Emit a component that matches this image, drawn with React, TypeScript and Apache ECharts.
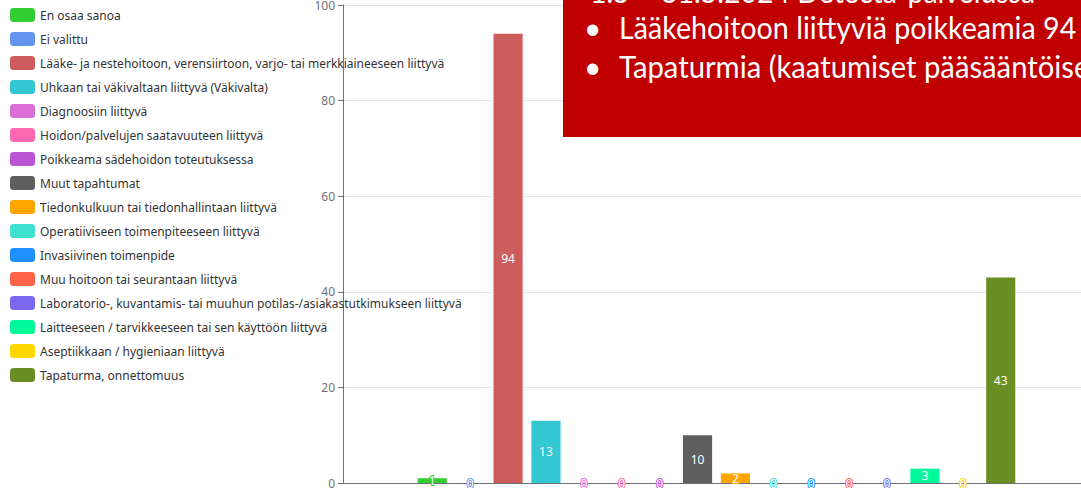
import React, { useEffect, useRef } from "react";
import * as echarts from "echarts";

const seriesNames = [
  "En osaa sanoa",
  "Ei valittu",
  "Lääke- ja nestehoitoon, verensiirtoon, varjo- tai merkkiaineeseen liittyvä",
  "Uhkaan tai väkivaltaan liittyvä (Väkivalta)",
  "Diagnoosiin liittyvä",
  "Hoidon/palvelujen saatavuuteen liittyvä",
  "Poikkeama sädehoidon toteutuksessa",
  "Muut tapahtumat",
  "Tiedonkulkuun tai tiedonhallintaan liittyvä",
  "Operatiiviseen toimenpiteeseen liittyvä",
  "Invasiivinen toimenpide",
  "Muu hoitoon tai seurantaan liittyvä",
  "Laboratorio-, kuvantamis- tai muuhun potilas-/asiakastutkimukseen liittyvä",
  "Laitteeseen / tarvikkeeseen tai sen käyttöön liittyvä",
  "Aseptiikkaan / hygieniaan liittyvä",
  "Tapaturma, onnettomuus",
];

const seriesValues = [1, 0, 94, 13, 0, 0, 0, 10, 2, 0, 0, 0, 0, 3, 0, 43];

const seriesColors = [
  "#32CD32",
  "#6495ED",
  "#CD5C5C",
  "#33C6D3",
  "#DA70D6",
  "#FF69B4",
  "#BA55D3",
  "#5E5E5E",
  "#FFA500",
  "#40E0D0",
  "#1E90FF",
  "#FF6347",
  "#7B68EE",
  "#00FA9A",
  "#FFD700",
  "#6B8E23",
];

const categories = ["Poikkeamat"];

const boxLines = [
  "1.5 – 31.5.2024 Detecta-palvelussa",
  "Lääkehoitoon liittyviä poikkeamia 94",
  "Tapaturmia (kaatumiset pääsääntöisesti) 43",
];

export default function App() {
  const ref = useRef<HTMLDivElement>(null);

  useEffect(() => {
    if (!ref.current) return;
    const chart = echarts.init(ref.current, undefined, { renderer: "svg" });
    const boxFont = "30px Lato";
    chart.setOption({
      animation: false,
      textStyle: { fontFamily: "Noto Sans" },
      legend: {
        orient: "vertical",
        left: 5,
        top: 3,
        itemWidth: 25,
        itemHeight: 14,
        itemGap: 10,
        textStyle: { fontSize: 12, color: "#333", fontFamily: "Noto Sans" },
        data: seriesNames,
      },
      grid: {
        left: 343,
        right: 10,
        top: 5,
        bottom: 5,
        containLabel: false,
        outerBoundsMode: "none",
      },
      xAxis: {
        type: "category",
        data: categories,
        axisLine: { lineStyle: { color: "#6E7079" } },
        axisTick: { show: false },
      },
      yAxis: {
        type: "value",
        min: 0,
        max: 100,
        interval: 20,
        axisLine: { show: true, lineStyle: { color: "#6E7079" } },
        axisTick: { show: true },
        axisLabel: { color: "#6E7079", fontSize: 12 },
        splitLine: { lineStyle: { color: "#E0E6F1" } },
      },
      series: seriesNames.map((name, i) => ({
        name,
        type: "bar",
        data: [seriesValues[i]],
        barGap: "30%",
        barCategoryGap: "20%",
        itemStyle: { color: seriesColors[i] },
        label: {
          show: true,
          position: "inside",
          fontSize: 12,
          color: "#fff",
          textBorderColor: seriesColors[i],
          textBorderWidth: 2,
        },
      })),
      graphic: [
        {
          type: "rect",
          z: 100,
          shape: { x: 563, y: -20, width: 600, height: 157 },
          style: { fill: "#C00000" },
        },
        {
          type: "text",
          z: 101,
          x: 590,
          y: 6,
          scaleX: 0.95,
          style: { text: boxLines[0], fill: "#fff", font: boxFont, verticalAlign: "bottom" },
        },
        {
          type: "text",
          z: 101,
          x: 584,
          y: 42,
          style: { text: "•", fill: "#fff", font: boxFont, verticalAlign: "bottom" },
        },
        {
          type: "text",
          z: 101,
          x: 619,
          y: 42,
          scaleX: 0.955,
          style: { text: boxLines[1], fill: "#fff", font: boxFont, verticalAlign: "bottom" },
        },
        {
          type: "text",
          z: 101,
          x: 584,
          y: 81,
          style: { text: "•", fill: "#fff", font: boxFont, verticalAlign: "bottom" },
        },
        {
          type: "text",
          z: 101,
          x: 619,
          y: 81,
          scaleX: 0.975,
          style: { text: boxLines[2], fill: "#fff", font: boxFont, verticalAlign: "bottom" },
        },
      ],
    });
    return () => chart.dispose();
  }, []);

  return (
    <div
      style={{
        position: "absolute",
        left: 0,
        top: 0,
        width: 1081,
        height: 488,
        overflow: "hidden",
      }}
    >
      <div ref={ref} style={{ width: 1100, height: 488 }} />
    </div>
  );
}
